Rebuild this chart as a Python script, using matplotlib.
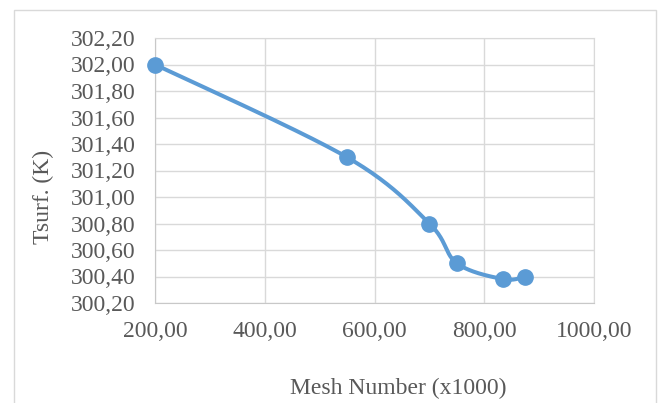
import numpy as np
import matplotlib.pyplot as plt
from matplotlib.patches import Rectangle
from matplotlib.ticker import FuncFormatter

mesh = [200, 550, 700, 750, 835, 875]
tsurf = [302.00, 301.30, 300.80, 300.50, 300.38, 300.40]

x_ticks = [200, 400, 600, 800, 1000]
y_ticks = [300.2, 300.4, 300.6, 300.8, 301.0, 301.2, 301.4, 301.6, 301.8, 302.0, 302.2]

blue = '#5b9bd5'
grey_txt = '#595959'
grid_c = '#d9d9d9'

plt.rcParams['font.family'] = ['Liberation Serif', 'DejaVu Serif']


def smooth(ax, xs, ys, n=40):
    # excel-like smoothing: catmull-rom bezier in screen space
    pts = ax.transData.transform(np.column_stack([xs, ys]))
    p = np.vstack([pts[0], pts, pts[-1]])
    out = []
    t = np.linspace(0, 1, n)[:, None]
    for i in range(1, len(p) - 2):
        p0, p1, p2, p3 = p[i - 1], p[i], p[i + 1], p[i + 2]
        c1 = p1 + (p2 - p0) / 6
        c2 = p2 - (p3 - p1) / 6
        seg = ((1 - t) ** 3) * p1 + 3 * ((1 - t) ** 2) * t * c1 + 3 * (1 - t) * t ** 2 * c2 + t ** 3 * p2
        out.append(seg)
    out = np.vstack(out)
    return ax.transData.inverted().transform(out)


fig = plt.figure(figsize=(6.62, 4.03), dpi=100)
fig.patches.append(Rectangle((14 / 662, -0.1), 642 / 662, 1 - 10 / 403 + 0.1, transform=fig.transFigure,
                             fill=False, edgecolor=grid_c, linewidth=1))
ax = fig.add_axes([155 / 662, 1 - 303 / 403, 439 / 662, 265 / 403])
ax.set_xlim(200, 1000)
ax.set_ylim(300.2, 302.2)
ax.set_xticks(x_ticks)
ax.set_yticks(y_ticks)
fmt = FuncFormatter(lambda v, p: f'{v:.2f}'.replace('.', ','))
ax.xaxis.set_major_formatter(fmt)
ax.yaxis.set_major_formatter(fmt)
ax.grid(True, color=grid_c, linewidth=1)
ax.set_axisbelow(True)
for s in ax.spines.values():
    s.set_color(grid_c)
ax.spines['left'].set_color('#c8c8c8')
ax.spines['bottom'].set_color('#c8c8c8')
ax.tick_params(length=0, labelsize=17, labelcolor=grey_txt)
ax.tick_params(axis='y', pad=14)
ax.tick_params(axis='x', pad=13)

curve = smooth(ax, mesh, tsurf)
ax.plot(curve[:, 0], curve[:, 1], color=blue, linewidth=2.9, solid_capstyle='round', clip_on=False)
ax.plot(mesh, tsurf, 'o', color=blue, markersize=11, clip_on=False, zorder=3)

fig.text(398 / 662, 1 - 388 / 403, 'Mesh Number (x1000)', ha='center', va='center', fontsize=17, color=grey_txt)
fig.text(43 / 662, 1 - 197 / 403, 'Tsurf. (K)', ha='center', va='center', rotation=90, fontsize=17, color=grey_txt)

fig.savefig('out.png', dpi=100)
